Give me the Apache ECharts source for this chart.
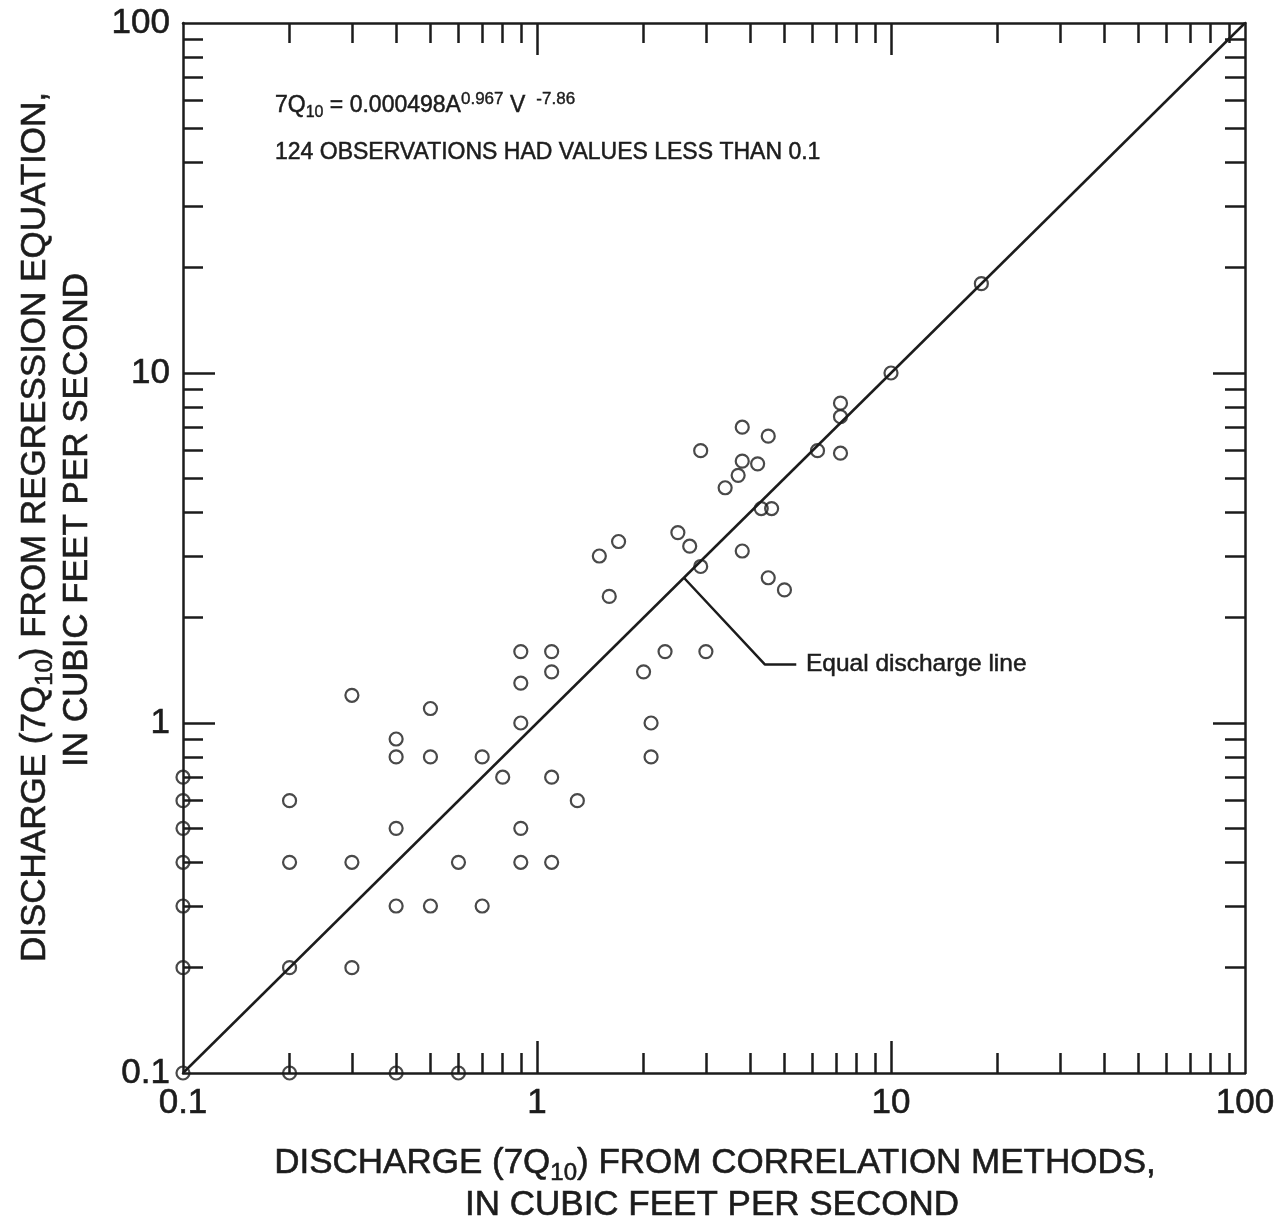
<!DOCTYPE html>
<html><head><meta charset="utf-8">
<script src="https://cdn.jsdelivr.net/npm/echarts@6/dist/echarts.min.js"></script>
<style>html,body{margin:0;padding:0;background:#fff}#c{width:1288px;height:1224px}</style>
</head><body><div id="c"></div>
<script>
// ---- data ----
const correlationQ = [0.1,0.1,0.1,0.1,0.1,0.1,0.1,
  0.2,0.4,0.6,
  0.2,0.2,0.2,
  0.3,0.3,0.3,
  0.4,0.4,0.4,0.4,
  0.5,0.5,0.5,
  0.6,
  0.7,0.7,
  0.8,
  0.9,0.9,0.9,0.9,0.9,
  1.1,1.1,1.1,1.1,
  1.3,
  1.5,1.6,1.7,
  2.0,2.3,2.1,2.1,
  2.5,2.7,2.9,2.9,3.0,
  3.4,3.8,3.8,3.7,4.2,3.8,
  4.3,4.6,4.5,4.5,5.0,
  6.2,7.2,7.2,7.2,
  10,18];
const regressionQ = [0.7,0.6,0.5,0.4,0.3,0.2,0.1,
  0.1,0.1,0.1,
  0.6,0.4,0.2,
  1.2,0.4,0.2,
  0.9,0.8,0.5,0.3,
  1.1,0.8,0.3,
  0.4,
  0.8,0.3,
  0.7,
  1.6,1.3,1.0,0.5,0.4,
  1.6,1.4,0.7,0.4,
  0.6,
  3.0,2.3,3.3,
  1.4,1.6,1.0,0.8,
  3.5,3.2,2.8,6.0,1.6,
  4.7,7.0,5.6,5.1,5.5,3.1,
  4.1,4.1,6.6,2.6,2.4,
  6.0,8.2,7.5,5.9,
  10,18];
const equalLine = [[0.1,0.1],[100,100]];
const axisLabelValues = [0.1,1,10,100];
const majorTickValues = [1,10];
const minorTickValues = [0.2,0.3,0.4,0.5,0.6,0.7,0.8,0.9,2,3,4,5,6,7,8,9,20,30,40,50,60,70,80,90];
const leaderPath = [[2.6,2.6],[4.4,1.47],[5.4,1.47]];
const leaderTextAt = [5.75,1.47];

// ---- styling ----
const FONT = '"Liberation Sans", Arial, Helvetica, sans-serif';
const INK = '#1c1c1c';

function fmt(v){ return String(+Number(v).toPrecision(3)); }

function mkAxis(pos, tickVals, len, showLine, showLabel){
  return {
    type:'log', logBase:10, min:0.1, max:100, position:pos,
    axisLine:{show:showLine, lineStyle:{color:INK, width:2.5}},
    axisTick:{show:true, inside:true, length:len, customValues:tickVals, lineStyle:{color:INK, width:2.5}},
    axisLabel:{show:showLabel, customValues:axisLabelValues, formatter:fmt, fontSize:35, fontFamily:FONT, color:INK,
      textBorderColor:INK, textBorderWidth:0.6, margin:13},
    splitLine:{show:false}, minorTick:{show:false}, minorSplitLine:{show:false}
  };
}

const chart = echarts.init(document.getElementById('c'), null, {renderer:'canvas'});
const points = correlationQ.map((x,i)=>[x, regressionQ[i]]);

chart.setOption({
  animation:false,
  backgroundColor:'#fff',
  grid:{left:183, right:43, top:23, bottom:151, containLabel:false, outerBoundsMode:'none'},
  xAxis:[
    mkAxis('bottom', majorTickValues, 32, true, true),
    mkAxis('top', majorTickValues, 32, true, false),
    mkAxis('bottom', minorTickValues, 20, false, false),
    mkAxis('top', minorTickValues, 20, false, false)
  ],
  yAxis:[
    mkAxis('left', majorTickValues, 32, true, true),
    mkAxis('right', majorTickValues, 32, true, false),
    mkAxis('left', minorTickValues, 20, false, false),
    mkAxis('right', minorTickValues, 20, false, false)
  ],
  series:[
    {type:'line', data:equalLine, xAxisIndex:0, yAxisIndex:0, symbol:'none', silent:true,
     lineStyle:{color:INK, width:2.5}, z:2},
    {type:'line', data:leaderPath, xAxisIndex:0, yAxisIndex:0, symbol:'none', silent:true,
     lineStyle:{color:INK, width:2.5}, z:2},
    {type:'scatter', data:points, xAxisIndex:0, yAxisIndex:0, symbol:'circle', symbolSize:13, clip:false,
     itemStyle:{color:'rgba(0,0,0,0)', borderColor:INK, borderWidth:2.2}, z:3}
  ]
});

const lp = chart.convertToPixel({xAxisIndex:0, yAxisIndex:0}, leaderTextAt);
const big = 35;
const sub = 24;
const SW = 0.6;
chart.setOption({
  graphic:[
    {type:'text', x:275, y:106, style:{
      text:'{n|7Q}{sb|10}{n| = 0.000498A}{sp|0.967}{n| V }{sp| -7.86}',
      textAlign:'left', textVerticalAlign:'middle',
      rich:{
        n:{fontSize:23, fontFamily:FONT, fill:INK, stroke:INK, lineWidth:0.5, lineHeight:30},
        sb:{fontSize:16, fontFamily:FONT, fill:INK, stroke:INK, lineWidth:0.4, lineHeight:16, verticalAlign:'bottom'},
        sp:{fontSize:17, fontFamily:FONT, fill:INK, stroke:INK, lineWidth:0.4, lineHeight:17, verticalAlign:'top'}
      }}},
    {type:'text', x:275, y:153, style:{
      text:'124 OBSERVATIONS HAD VALUES LESS THAN 0.1', fontSize:23, fontFamily:FONT, fill:INK,
      stroke:INK, lineWidth:0.5, textAlign:'left', textVerticalAlign:'middle'}},
    {type:'text', x:lp[0], y:lp[1], style:{
      text:'Equal discharge line', fontSize:24.5, fontFamily:FONT, fill:INK,
      stroke:INK, lineWidth:0.5, textAlign:'left', textVerticalAlign:'middle'}},
    {type:'text', x:715, y:1163, style:{
      text:'{n|DISCHARGE (7Q}{sb|10}{n|) FROM CORRELATION METHODS,}',
      textAlign:'center', textVerticalAlign:'middle',
      rich:{
        n:{fontSize:big, fontFamily:FONT, fill:INK, stroke:INK, lineWidth:SW, lineHeight:44},
        sb:{fontSize:sub, fontFamily:FONT, fill:INK, stroke:INK, lineWidth:SW, lineHeight:24, verticalAlign:'bottom'}
      }}},
    {type:'text', x:712, y:1205, style:{
      text:'IN CUBIC FEET PER SECOND', fontSize:big, fontFamily:FONT, fill:INK,
      stroke:INK, lineWidth:SW, textAlign:'center', textVerticalAlign:'middle'}},
    {type:'text', x:35, y:527, rotation:Math.PI/2, style:{
      text:'{n|DISCHARGE (7Q}{sb|10}{n|) FROM REGRESSION EQUATION,}',
      textAlign:'center', textVerticalAlign:'middle',
      rich:{
        n:{fontSize:big, fontFamily:FONT, fill:INK, stroke:INK, lineWidth:SW, lineHeight:44},
        sb:{fontSize:sub, fontFamily:FONT, fill:INK, stroke:INK, lineWidth:SW, lineHeight:24, verticalAlign:'bottom'}
      }}},
    {type:'text', x:77, y:520, rotation:Math.PI/2, style:{
      text:'IN CUBIC FEET PER SECOND', fontSize:big, fontFamily:FONT, fill:INK,
      stroke:INK, lineWidth:SW, textAlign:'center', textVerticalAlign:'middle'}}
  ]
});
</script></body></html>
